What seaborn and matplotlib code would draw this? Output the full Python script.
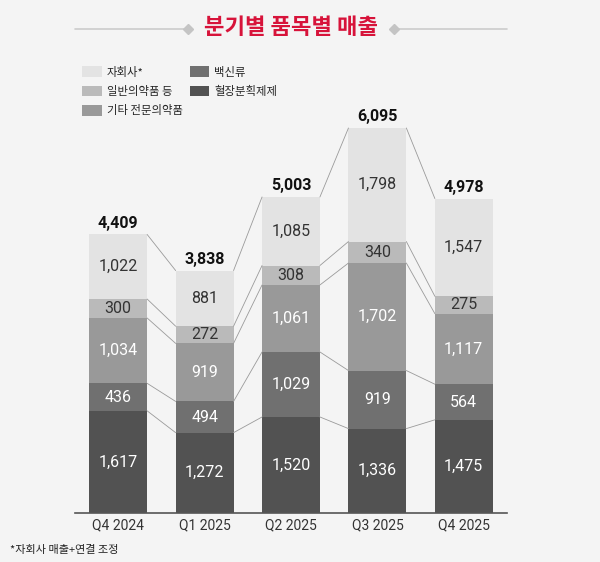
import numpy as np
import pandas as pd
import matplotlib
matplotlib.use("Agg")
import matplotlib.pyplot as plt
from matplotlib.patches import Patch
from matplotlib.lines import Line2D
import seaborn as sns

# Data (KRW, 억원)
quarters = ["Q4 2024", "Q1 2025", "Q2 2025", "Q3 2025", "Q4 2025"]
plasma = [1617, 1272, 1520, 1336, 1475]      # 혈장분획제제
vaccine = [436, 494, 1029, 919, 564]          # 백신류
other_rx = [1034, 919, 1061, 1702, 1117]      # 기타 전문의약품
otc = [300, 272, 308, 340, 275]               # 일반의약품 등
subsidiary = [1022, 881, 1085, 1798, 1547]    # 자회사*

series_names = ["혈장분획제제", "백신류", "기타 전문의약품", "일반의약품 등", "자회사*"]
series_vals = [plasma, vaccine, other_rx, otc, subsidiary]
colors = ["#525252", "#707070", "#999999", "#bababa", "#e3e3e3"]
text_colors = ["white", "white", "white", "#333333", "#333333"]

bg = "#f4f4f4"
sns.set_theme(style="white")
plt.rcParams["font.family"] = ["Roboto", "Noto Sans CJK KR", "DejaVu Sans"]
kr = ["Noto Sans CJK KR", "DejaVu Sans"]

df = pd.DataFrame({"quarter": quarters})
for name, vals in zip(series_names, series_vals):
    df[name] = vals
cum = df[series_names].cumsum(axis=1)

fig = plt.figure(figsize=(6, 5.62), dpi=100)
fig.patch.set_facecolor(bg)
ax = fig.add_axes([75 / 600, 49 / 562, 432 / 600, 413 / 562])
ax.set_facecolor(bg)

width = 0.67
# stacked bars: draw cumulative totals from the top series down
for name, col in reversed(list(zip(series_names, colors))):
    sns.barplot(x=df["quarter"], y=cum[name], color=col, width=width,
                saturation=1, edgecolor="none", linewidth=0, ax=ax)

# connector lines between neighbouring bars
for i in range(len(quarters) - 1):
    for name in series_names:
        ax.plot([i + width / 2, i + 1 - width / 2],
                [cum[name].iloc[i], cum[name].iloc[i + 1]],
                color="#9a9a9a", lw=0.6, zorder=1)

# segment labels
for i in range(len(quarters)):
    bottom = 0
    for name, tc in zip(series_names, text_colors):
        v = df[name].iloc[i]
        ax.text(i, bottom + v / 2, f"{v:,}", ha="center", va="center",
                fontsize=11.5, color=tc)
        bottom += v
    ax.annotate(f"{bottom:,}", (i, bottom), xytext=(0, 11), textcoords="offset pixels",
                ha="center", va="center", fontsize=11.5, fontweight="bold",
                color="#111111")

ax.set_xlim(-0.5, len(quarters) - 0.5)
ax.set_ylim(0, 6538)
ax.set_xlabel("")
ax.set_ylabel("")
ax.set_yticks([])
ax.tick_params(axis="x", length=0, pad=4, labelsize=10, colors="#333333")
for s in ["top", "right", "left"]:
    ax.spines[s].set_visible(False)
ax.spines["bottom"].set_color("#555555")
ax.spines["bottom"].set_linewidth(1.2)

# title with decorative lines
fig.text(291 / 600, 1 - 28 / 562, "분기별 품목별 매출", ha="center", va="center",
         fontsize=16, fontweight="bold", color="#d7133a", family=kr)
ty = 1 - 29 / 562
for x0, x1, xm in [(75, 188, 188), (394, 507, 394)]:
    fig.add_artist(Line2D([x0 / 600, x1 / 600], [ty, ty], color="#cccccc", lw=1.2,
                          transform=fig.transFigure))
    fig.add_artist(Line2D([xm / 600], [ty], marker="D", markersize=5, color="#c4c4c4",
                          transform=fig.transFigure))

# legend
order = [4, 3, 2, 1, 0]
handles = [Patch(facecolor=colors[k], edgecolor="none") for k in order]
labels = [series_names[k] for k in order]
fig.legend(handles, labels, ncol=2, loc="upper left",
           bbox_to_anchor=(72 / 600, 1 - 56 / 562), frameon=False,
           handlelength=1.7, handleheight=1.1, handletextpad=0.45,
           labelspacing=0.7, columnspacing=0.6,
           prop={"family": kr, "size": 8.2})

fig.text(10 / 600, 1 - 550 / 562, "*자회사 매출+연결 조정", ha="left", va="center",
         fontsize=8, color="#222222", family=kr)

fig.savefig("out.png", dpi=100, facecolor=bg)
